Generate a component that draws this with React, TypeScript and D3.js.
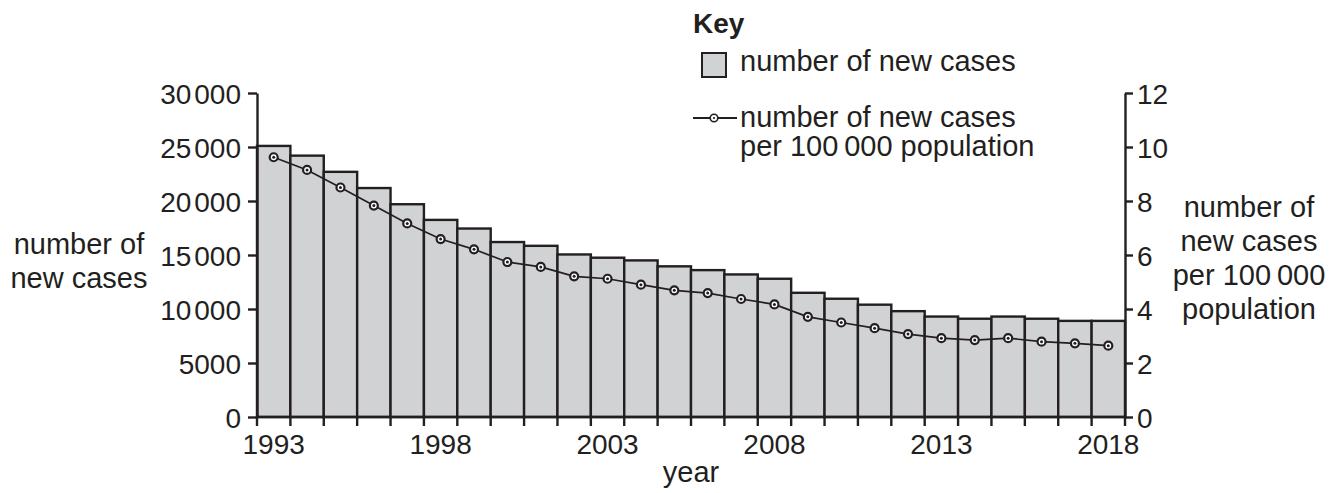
import { useEffect, useRef } from "react";
import * as d3 from "d3";

const years = [
  1993, 1994, 1995, 1996, 1997, 1998, 1999, 2000, 2001, 2002, 2003, 2004, 2005,
  2006, 2007, 2008, 2009, 2010, 2011, 2012, 2013, 2014, 2015, 2016, 2017, 2018,
];
const newCases = [
  25100, 24200, 22700, 21200, 19700, 18250, 17450, 16200, 15850, 15050, 14750,
  14500, 13950, 13600, 13200, 12800, 11500, 10950, 10400, 9800, 9300, 9100,
  9300, 9100, 8900, 8900,
];
const ratePer100k = [
  9.62, 9.15, 8.5, 7.83, 7.17, 6.59, 6.21, 5.74, 5.56, 5.21, 5.12, 4.9, 4.69,
  4.59, 4.37, 4.17, 3.71, 3.5, 3.29, 3.07, 2.92, 2.85, 2.92, 2.79, 2.73, 2.64,
];
const yearLabels = [1993, 1998, 2003, 2008, 2013, 2018];
const leftTicks = [0, 5000, 10000, 15000, 20000, 25000, 30000];
const rightTicks = [0, 2, 4, 6, 8, 10, 12];

const INK = "#231f20";
const BAR = "#d1d2d4";
const FONT = "'Liberation Sans', Arial, Helvetica, sans-serif";

const W = 1343;
const H = 493;

const App = () => {
  const svgRef = useRef<SVGSVGElement | null>(null);

  useEffect(() => {
    const svg = d3.select(svgRef.current);
    svg.selectAll("*").remove();

    const left = 257;
    const right = 1125;
    const top = 93;
    const bottom = 417;

    const x = d3.scaleBand<number>().domain(years).range([left, right]).padding(0);
    const yL = d3.scaleLinear().domain([0, 30000]).range([bottom, top]);
    const yR = d3.scaleLinear().domain([0, 12]).range([bottom, top]);

    const g = svg.append("g").style("font-family", FONT).attr("fill", INK);

    // bars
    const rows = years.map((yr, i) => ({ yr, cases: newCases[i], rate: ratePer100k[i] }));
    g.append("g")
      .selectAll("rect")
      .data(rows)
      .enter()
      .append("rect")
      .attr("x", (d) => x(d.yr)!)
      .attr("y", (d) => yL(d.cases))
      .attr("width", x.bandwidth())
      .attr("height", (d) => bottom - yL(d.cases))
      .attr("fill", BAR)
      .attr("stroke", INK)
      .attr("stroke-width", 2.4);

    // thousands with a narrow gap
    const fmtThousands = (sel: d3.Selection<SVGTextElement, number, any, any>) => {
      sel.each(function (d) {
        const t = d3.select(this);
        t.text(null);
        if (d >= 10000) {
          const s = String(d);
          t.append("tspan").text(s.slice(0, s.length - 3));
          t.append("tspan").attr("dx", 3).text(s.slice(-3));
        } else {
          t.text(String(d));
        }
      });
    };

    // left axis
    const axL = g
      .append("g")
      .attr("transform", `translate(${left},0)`)
      .call(d3.axisLeft(yL).tickValues(leftTicks).tickSize(9).tickPadding(7).tickSizeOuter(0));
    axL.select(".domain").attr("stroke", INK).attr("stroke-width", 2.4);
    axL.selectAll(".tick line").attr("stroke", INK).attr("stroke-width", 2.4);
    axL
      .selectAll<SVGTextElement, number>(".tick text")
      .attr("fill", INK)
      .style("font-size", "28px")
      .style("font-family", FONT)
      .attr("dy", "0.36em")
      .call(fmtThousands);

    // right axis
    const axR = g
      .append("g")
      .attr("transform", `translate(${right},0)`)
      .call(d3.axisRight(yR).tickValues(rightTicks).tickSize(8).tickPadding(4).tickSizeOuter(0));
    axR.select(".domain").attr("stroke", INK).attr("stroke-width", 2.4);
    axR.selectAll(".tick line").attr("stroke", INK).attr("stroke-width", 2.4);
    axR
      .selectAll(".tick text")
      .attr("fill", INK)
      .style("font-size", "28px")
      .style("font-family", FONT)
      .attr("dy", "0.36em");

    // bottom axis: ticks at every year boundary, labels at bar centres
    const boundaries = [...years.map((yr) => x(yr)!), right];
    g.append("line")
      .attr("x1", left - 1.2)
      .attr("x2", right + 1.2)
      .attr("y1", bottom)
      .attr("y2", bottom)
      .attr("stroke", INK)
      .attr("stroke-width", 2.4);
    g.append("g")
      .selectAll("line")
      .data(boundaries)
      .enter()
      .append("line")
      .attr("x1", (d) => d)
      .attr("x2", (d) => d)
      .attr("y1", bottom)
      .attr("y2", bottom + 9)
      .attr("stroke", INK)
      .attr("stroke-width", 2.4);
    g.append("g")
      .selectAll("text")
      .data(yearLabels)
      .enter()
      .append("text")
      .attr("x", (d) => x(d)! + x.bandwidth() / 2)
      .attr("y", 454)
      .attr("text-anchor", "middle")
      .style("font-size", "28px")
      .text((d) => String(d));

    // line series
    const line = d3
      .line<(typeof rows)[number]>()
      .x((d) => x(d.yr)! + x.bandwidth() / 2)
      .y((d) => yR(d.rate));
    g.append("path")
      .datum(rows)
      .attr("fill", "none")
      .attr("stroke", INK)
      .attr("stroke-width", 1.7)
      .attr("d", line);
    const dots = g.append("g").selectAll("g").data(rows).enter().append("g")
      .attr("transform", (d) => `translate(${x(d.yr)! + x.bandwidth() / 2},${yR(d.rate)})`);
    dots.append("circle").attr("r", 4).attr("fill", "#fff").attr("stroke", INK).attr("stroke-width", 2.2);
    dots.append("circle").attr("r", 1.5).attr("fill", INK);

    // axis titles
    const leftTitle = g.append("text").attr("text-anchor", "middle").style("font-size", "29px");
    ["number of", "new cases"].forEach((s, i) =>
      leftTitle.append("tspan").attr("x", 79).attr("y", 254 + i * 34).text(s)
    );
    const rightTitle = g.append("text").attr("text-anchor", "middle").style("font-size", "29px");
    ["number of", "new cases", "per 100\u2009000", "population"].forEach((s, i) =>
      rightTitle.append("tspan").attr("x", 1249).attr("y", 217 + i * 34).text(s)
    );
    g.append("text")
      .attr("x", (left + right) / 2)
      .attr("y", 482)
      .attr("text-anchor", "middle")
      .style("font-size", "29px")
      .text("year");

    // key
    const key = g.append("g");
    key.append("text").attr("x", 693).attr("y", 33).style("font-size", "28px").style("font-weight", "bold").text("Key");
    key.append("rect").attr("x", 702).attr("y", 53).attr("width", 24).attr("height", 24)
      .attr("fill", BAR).attr("stroke", INK).attr("stroke-width", 2);
    key.append("text").attr("x", 740).attr("y", 71).style("font-size", "29px").text("number of new cases");
    key.append("line").attr("x1", 693).attr("x2", 737).attr("y1", 118).attr("y2", 118)
      .attr("stroke", INK).attr("stroke-width", 2);
    key.append("circle").attr("cx", 714).attr("cy", 118).attr("r", 3.8).attr("fill", "#fff")
      .attr("stroke", INK).attr("stroke-width", 1.6);
    key.append("circle").attr("cx", 714).attr("cy", 118).attr("r", 1.1).attr("fill", INK);
    const keyText = key.append("text").style("font-size", "29px");
    ["number of new cases", "per 100\u2009000 population"].forEach((s, i) =>
      keyText.append("tspan").attr("x", 740).attr("y", 127 + i * 29).text(s)
    );
  }, []);

  return (
    <svg
      ref={svgRef}
      width={W}
      height={H}
      style={{ position: "absolute", left: 0, top: 0, background: "#fff" }}
    />
  );
};

export default App;
